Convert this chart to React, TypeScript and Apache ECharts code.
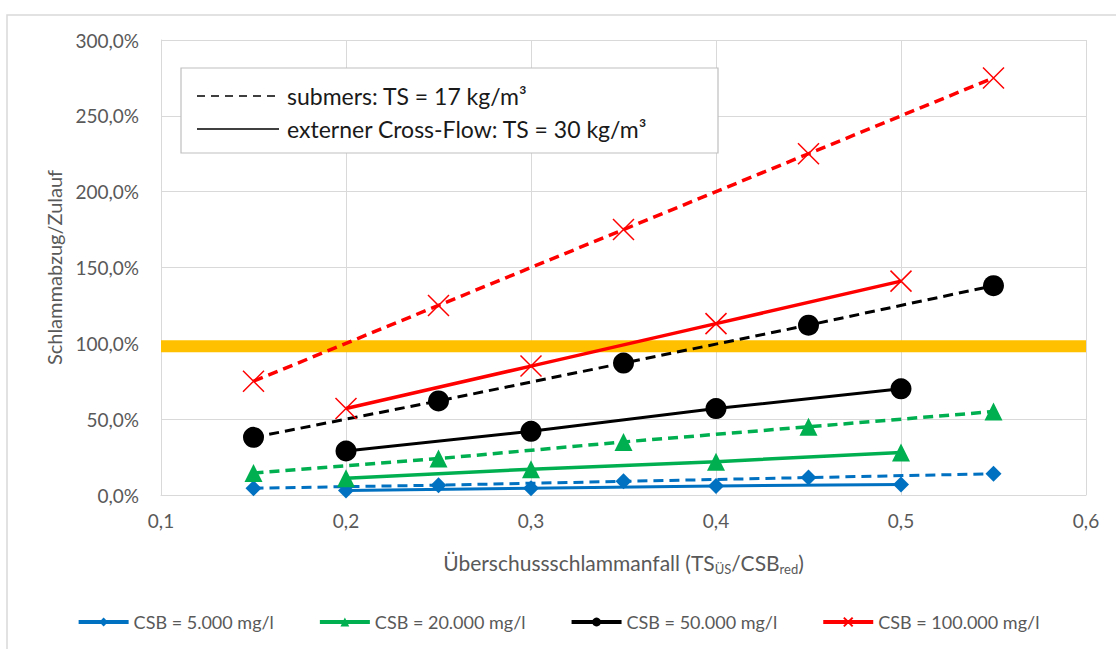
import React, { useEffect, useRef } from "react";
import * as echarts from "echarts";

// x positions
const xSubmers = [0.15, 0.25, 0.35, 0.45, 0.55];
const xCross = [0.2, 0.3, 0.4, 0.5];

// values in % (Schlammabzug/Zulauf)
const csb5Submers = [4.5, 6.5, 9, 11.5, 14];
const csb5Cross = [3, 4.5, 6, 7];
const csb20Submers = [14.5, 24, 35, 45, 55];
const csb20Cross = [11, 17, 22, 28];
const csb50Submers = [38, 62, 87, 112, 138];
const csb50Cross = [29, 42, 57, 70];
const csb100Submers = [75, 125, 175, 225, 275];
const csb100Cross = [57, 85, 113, 141];

const limitX = [0.1, 0.6];
const limitValue = 98;

const seriesNames = ["CSB = 5.000 mg/l", "CSB = 20.000 mg/l", "CSB = 50.000 mg/l", "CSB = 100.000 mg/l"];
const seriesColors = ["#0070C0", "#00B050", "#000000", "#FF0000"];
const boxLabels = ["submers: TS = 17 kg/m³", "externer Cross-Flow: TS = 30 kg/m³"];

const FONT = "Lato, 'Open Sans', sans-serif";
const TEXT = "#595959";

const crossPath = "path://M0,0L10,10M10,0L0,10";

const pairs = (xs: number[], ys: number[]) => xs.map((x, i) => [x, ys[i]]);

export default function App() {
  const ref = useRef<HTMLDivElement>(null);
  useEffect(() => {
    if (!ref.current) return;
    const chart = echarts.init(ref.current, undefined, { renderer: "svg" });
    const symbols = ["diamond", "triangle", "circle", crossPath];
    const sizes = [16, 18, 21, 21];
    const widths = [3, 3.5, 3, 3.5];
    const sub = [csb5Submers, csb20Submers, csb50Submers, csb100Submers];
    const cross = [csb5Cross, csb20Cross, csb50Cross, csb100Cross];
    const series: any[] = [
      {
        type: "line",
        name: "limit",
        data: limitX.map((x) => [x, limitValue]),
        symbol: "none",
        lineStyle: { color: "#FFC000", width: 12 },
        z: 1,
      },
    ];
    for (let i = 0; i < 4; i++) {
      const isCross = i === 3;
      const itemStyle = isCross
        ? { color: "#FF0000", borderColor: "#FF0000", borderWidth: 1.5 }
        : { color: seriesColors[i], borderColor: seriesColors[i], borderWidth: 0 };
      series.push({
        type: "line",
        name: seriesNames[i],
        data: pairs(xCross, cross[i]),
        symbol: symbols[i],
        symbolSize: sizes[i],
        lineStyle: { color: seriesColors[i], width: widths[i], type: "solid" },
        itemStyle,
        z: 3,
      });
      series.push({
        type: "line",
        name: seriesNames[i],
        data: pairs(xSubmers, sub[i]),
        symbol: symbols[i],
        symbolSize: sizes[i],
        lineStyle: { color: seriesColors[i], width: widths[i], type: [10, 6] },
        itemStyle,
        z: 3,
      });
    }
    chart.setOption({
      animation: false,
      backgroundColor: "#ffffff",
      textStyle: { fontFamily: FONT },
      grid: { left: 161, right: 30, top: 40, bottom: 154, containLabel: false },
      xAxis: {
        type: "value",
        min: 0.1,
        max: 0.6,
        interval: 0.1,
        axisLine: { show: true, lineStyle: { color: "#D9D9D9" } },
        axisTick: { show: false },
        splitLine: { show: true, lineStyle: { color: "#D9D9D9" } },
        axisLabel: {
          color: TEXT,
          fontSize: 19,
          fontFamily: FONT,
          margin: 16,
          formatter: (v: number) => v.toFixed(1).replace(".", ","),
        },
        name: "Überschussschlammanfall (TS{sub|ÜS}/CSB{sub|red})",
        nameLocation: "middle",
        nameGap: 55,
        nameTextStyle: {
          color: TEXT,
          fontSize: 21,
          fontFamily: FONT,
          rich: {
            sub: { fontSize: 13, color: TEXT, fontFamily: FONT, padding: [12, 0, 0, 0] },
          },
        },
      },
      yAxis: {
        type: "value",
        min: 0,
        max: 300,
        interval: 50,
        axisLine: { show: true, lineStyle: { color: "#D9D9D9" } },
        axisTick: { show: false },
        splitLine: { show: true, lineStyle: { color: "#D9D9D9" } },
        axisLabel: {
          color: TEXT,
          fontSize: 19,
          fontFamily: FONT,
          margin: 22,
          formatter: (v: number) => v.toFixed(1).replace(".", ",") + "%",
        },
        name: "Schlammabzug/Zulauf",
        nameLocation: "middle",
        nameGap: 94,
        nameTextStyle: { color: TEXT, fontSize: 20, fontFamily: FONT },
      },
      legend: {
        data: seriesNames,
        top: 608,
        left: "center",
        itemWidth: 50,
        itemHeight: 11,
        itemGap: 44,
        lineStyle: { width: 4 },
        textStyle: { color: TEXT, fontSize: 18, fontFamily: FONT },
      },
      graphic: [
        {
          type: "rect",
          shape: { x: 7, y: 15, width: 1200, height: 800 },
          style: { fill: "none", stroke: "#D9D9D9", lineWidth: 1.5 },
          silent: true,
          z: -10,
        },
        {
          type: "rect",
          z: 100,
          shape: { x: 181, y: 68, width: 537, height: 85 },
          style: { fill: "#ffffff", stroke: "#BFBFBF", lineWidth: 1.2 },
        },
        {
          type: "line",
          z: 101,
          shape: { x1: 197, y1: 96, x2: 279, y2: 96 },
          style: { stroke: "#000", lineWidth: 1.5, lineDash: [8, 6] },
        },
        {
          type: "text",
          z: 101,
          x: 287,
          y: 96,
          style: {
            text: boxLabels[0],
            fill: "#1a1a1a",
            font: `23px ${FONT}`,
            verticalAlign: "middle",
            align: "left",
          },
        },
        {
          type: "line",
          z: 101,
          shape: { x1: 197, y1: 129, x2: 279, y2: 129 },
          style: { stroke: "#000", lineWidth: 1.5 },
        },
        {
          type: "text",
          z: 101,
          x: 287,
          y: 129,
          style: {
            text: boxLabels[1],
            fill: "#1a1a1a",
            font: `23px ${FONT}`,
            verticalAlign: "middle",
            align: "left",
          },
        },
      ],
      series,
    });
    return () => chart.dispose();
  }, []);
  return (
    <div
      ref={ref}
      style={{ position: "fixed", left: 0, top: 0, width: 1116, height: 649 }}
    />
  );
}
